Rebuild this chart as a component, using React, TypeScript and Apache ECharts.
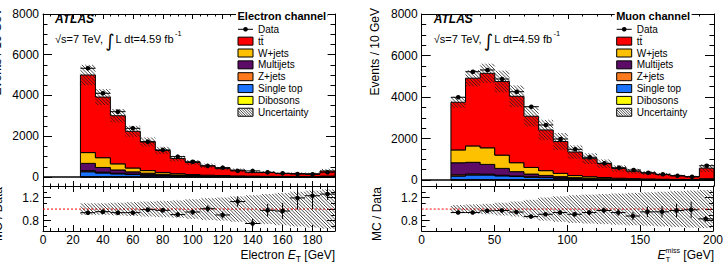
import { useEffect, useRef } from "react";
import * as echarts from "echarts";

const FONT = '"Liberation Sans", Arial, Helvetica, sans-serif';
const INT_FONT = '"DejaVu Sans", "Liberation Sans", sans-serif';

// Electron channel: E_T in 10 GeV bins from 25 GeV (last bin holds the overflow)
const elEdges = [25, 35, 45, 55, 65, 75, 85, 95, 105, 115, 125, 135, 145, 155, 165, 175, 185, 195];
const elData = [5335, 4108, 3205, 2390, 1735, 1330, 1000, 750, 545, 460, 300, 300, 230, 180, 145, 130, 235];
const elTtbar = [3806, 2976, 2360, 1800, 1403, 1076, 742, 592, 459, 344, 287, 183, 193, 148, 152, 143, 252];
const elWjets = [530, 480, 300, 190, 130, 90, 65, 48, 36, 28, 22, 17, 13, 10, 8, 7, 18];
const elMultijets = [360, 230, 160, 110, 75, 50, 35, 25, 18, 13, 10, 8, 6, 5, 4, 3, 8];
const elZjets = [50, 40, 30, 22, 16, 12, 9, 7, 5, 4, 3, 3, 2, 2, 2, 1, 4];
const elSingleTop = [250, 190, 150, 115, 90, 70, 50, 38, 28, 22, 16, 13, 10, 8, 6, 5, 12];
const elDibosons = [8, 7, 6, 5, 4, 3, 3, 2, 2, 2, 1, 1, 1, 1, 1, 1, 2];
const elRelUnc = [0.1, 0.1, 0.11, 0.12, 0.13, 0.14, 0.15, 0.17, 0.19, 0.2, 0.22, 0.24, 0.26, 0.28, 0.3, 0.32, 0.34];
const elRatioErr = [0.015, 0.02, 0.02, 0.025, 0.03, 0.035, 0.04, 0.05, 0.06, 0.06, 0.09, 0.08, 0.11, 0.14, 0.2, 0.23, 0.1];

// Muon channel: E_T^miss in 10 GeV bins from 20 GeV (last bin holds the overflow)
const muEdges = [20, 30, 40, 50, 60, 70, 80, 90, 100, 110, 120, 130, 140, 150, 160, 170, 180, 190, 200];
const muData = [3986, 5219, 5301, 4867, 4255, 3532, 2651, 1976, 1480, 1094, 805, 593, 482, 352, 275, 207, 159, 689];
const muTtbar = [2297, 3264, 3590, 3550, 3201, 2466, 1961, 1535, 1134, 870, 667, 470, 358, 285, 224, 172, 134, 509];
const muWjets = [620, 790, 800, 640, 430, 320, 230, 160, 100, 75, 55, 40, 30, 23, 18, 14, 11, 30];
const muMultijets = [580, 560, 470, 330, 210, 130, 90, 60, 40, 28, 20, 14, 10, 7, 5, 4, 3, 8];
const muZjets = [60, 50, 40, 30, 25, 20, 15, 12, 9, 7, 6, 5, 4, 3, 2, 2, 1, 3];
const muSingleTop = [180, 230, 230, 190, 160, 130, 110, 85, 60, 45, 35, 26, 20, 15, 12, 9, 7, 20];
const muDibosons = [10, 12, 12, 10, 8, 7, 6, 5, 4, 3, 3, 2, 2, 2, 1, 1, 1, 2];
const muRelUnc = [0.07, 0.08, 0.09, 0.11, 0.13, 0.16, 0.2, 0.22, 0.24, 0.25, 0.26, 0.27, 0.28, 0.29, 0.3, 0.31, 0.32, 0.33];
const muRatioErr = [0.015, 0.015, 0.015, 0.02, 0.02, 0.025, 0.03, 0.035, 0.04, 0.045, 0.05, 0.055, 0.07, 0.09, 0.1, 0.12, 0.14, 0.05];

// Tick labels
const elXTicks = [0, 20, 40, 60, 80, 100, 120, 140, 160, 180];
const muXTicks = [0, 50, 100, 150, 200];
const mainYTicks = [0, 2000, 4000, 6000, 8000];
const ratioYTicks = [0.8, 1, 1.2];

// Stack order, bottom to top
const stackColors = ["#ffff00", "#1a74ff", "#ff7a1c", "#5c0b66", "#fdc100", "#ff0000"];
const legendLabels = ["Data", "t\u0074\u0304", "W+jets", "Multijets", "Z+jets", "Single top", "Dibosons", "Uncertainty"];
const legendColors = [null, "#ff0000", "#fdc100", "#5c0b66", "#ff7a1c", "#1a74ff", "#ffff00", null];

const steps = (from: number, to: number, step: number, skip: number[]) => {
  const out: number[] = [];
  for (let v = from; v <= to + 1e-9; v += step) {
    const r = Math.round(v * 1000) / 1000;
    if (!skip.some((s) => Math.abs(s - r) < 1e-6)) out.push(r);
  }
  return out;
};

// Diagonal hatch lines (top-left to bottom-right) inside a pixel rectangle
function hatch(x0: number, y0: number, x1: number, y1: number, step = 3.4, color = "#1e1e1e", lw = 0.8) {
  const out: any[] = [];
  if (y1 < y0) [y0, y1] = [y1, y0];
  const kStart = Math.ceil((y0 - x1) / step) * step;
  for (let k = kStart; k <= y1 - x0; k += step) {
    const xa = Math.max(x0, y0 - k);
    const xb = Math.min(x1, y1 - k);
    if (xb - xa > 0.05) {
      out.push({ type: "line", shape: { x1: xa, y1: xa + k, x2: xb, y2: xb + k }, style: { stroke: color, lineWidth: lw } });
    }
  }
  return out;
}

function makeAxes(dim: "x" | "y", grid: number, min: number, max: number, major: number[], minor: number[], majLen: number, minLen: number, labels: boolean) {
  const sideA = dim === "x" ? "bottom" : "left";
  const sideB = dim === "x" ? "top" : "right";
  const base = { type: "value", gridIndex: grid, min, max, splitLine: { show: false }, silent: true };
  const line = { show: true, onZero: false, lineStyle: { color: "#000", width: 1 } };
  const tick = (vals: number[], len: number) => ({ show: true, inside: true, length: len, customValues: vals, lineStyle: { color: "#000", width: 1 } });
  return [
    {
      ...base, position: sideA, axisLine: line, axisTick: tick(major, majLen),
      axisLabel: labels
        ? {
            show: true, customValues: major, margin: 4, color: "#000", fontFamily: FONT, fontSize: 12,
            lineHeight: 9, hideOverlap: false, showMinLabel: true, showMaxLabel: true,
            formatter: (v: number) => String(v),
          }
        : { show: false },
    },
    { ...base, position: sideA, axisLine: { show: false, onZero: false }, axisTick: tick(minor, minLen), axisLabel: { show: false } },
    { ...base, position: sideB, axisLine: line, axisTick: tick(major, majLen), axisLabel: { show: false } },
    { ...base, position: sideB, axisLine: { show: false, onZero: false }, axisTick: tick(minor, minLen), axisLabel: { show: false } },
  ];
}

const textEl = (x: number, y: number, text: string, size: number, o: any = {}) => ({
  type: "text",
  x,
  y,
  z: 60,
  rotation: o.rot || 0,
  silent: true,
  style: {
    text,
    fontSize: size,
    fontFamily: o.family || FONT,
    fontStyle: o.italic ? "italic" : "normal",
    fontWeight: o.bold ? "bold" : "normal",
    fill: o.color || "#000",
    textAlign: o.align || "left",
    align: o.align || "left",
    textVerticalAlign: "middle",
    verticalAlign: "middle",
  },
});

function buildOption() {
  const ctx = document.createElement("canvas").getContext("2d")!;
  const tw = (t: string, size: number, italic = false, bold = false, family = FONT) => {
    ctx.font = `${italic ? "italic" : "normal"} ${bold ? "bold" : "normal"} ${size}px ${family}`;
    return ctx.measureText(t).width;
  };

  const grids = [
    { left: 43, top: 14, width: 292, height: 172 },
    { left: 43, top: 186, width: 292, height: 45 },
    { left: 421.7, top: 14, width: 292.3, height: 172 },
    { left: 421.7, top: 186, width: 292.3, height: 45 },
  ];

  const panels = [
    {
      edges: elEdges, data: elData, relUnc: elRelUnc, ratioErr: elRatioErr,
      comps: [elDibosons, elSingleTop, elZjets, elMultijets, elWjets, elTtbar],
      xMax: 195, xTicks: elXTicks, xMinor: steps(0, 195, 5, elXTicks), yMin: -442, gMain: 0, gRatio: 1, dx: 0,
      title: "Electron channel",
    },
    {
      edges: muEdges, data: muData, relUnc: muRelUnc, ratioErr: muRatioErr,
      comps: [muDibosons, muSingleTop, muZjets, muMultijets, muWjets, muTtbar],
      xMax: 200, xTicks: muXTicks, xMinor: steps(0, 200, 10, muXTicks), yMin: -289, gMain: 2, gRatio: 3, dx: 378.7,
      title: "Muon channel",
    },
  ];

  const xAxes: any[] = [];
  const yAxes: any[] = [];
  const series: any[] = [];
  const graphics: any[] = [];

  const mainYMinor = steps(500, 8000, 500, mainYTicks);
  const ratioYMinor = steps(0.7, 1.3, 0.1, ratioYTicks);

  panels.forEach((p) => {
    const xm = xAxes.length;
    xAxes.push(...makeAxes("x", p.gMain, 0, p.xMax, p.xTicks, p.xMinor, 5, 2.5, false));
    const ym = yAxes.length;
    yAxes.push(...makeAxes("y", p.gMain, p.yMin, 8000, mainYTicks, mainYMinor, 9, 4.5, true));
    const xr = xAxes.length;
    xAxes.push(...makeAxes("x", p.gRatio, 0, p.xMax, p.xTicks, p.xMinor, 6, 3, true));
    const yr = yAxes.length;
    yAxes.push(...makeAxes("y", p.gRatio, 0.62, 1.4, ratioYTicks, ratioYMinor, 8, 4, true));

    const n = p.data.length;
    let run = new Array(n).fill(0);
    const layers: { lo: number[]; hi: number[] }[] = [];
    p.comps.forEach((c) => {
      const hi = run.map((v: number, i: number) => v + c[i]);
      layers.push({ lo: run, hi });
      run = hi;
    });
    const total = run;
    const edges = p.edges;

    // stacked fills with black outlines
    layers.forEach((ly, ci) => {
      series.push({
        type: "custom", xAxisIndex: xm, yAxisIndex: ym, clip: true, silent: true, z: 2,
        data: [[edges[0], 0]],
        renderItem: (_params: any, api: any) => {
          const pts: number[][] = [];
          ly.hi.forEach((v, i) => { pts.push(api.coord([edges[i], v]), api.coord([edges[i + 1], v])); });
          for (let i = n - 1; i >= 0; i--) pts.push(api.coord([edges[i + 1], ly.lo[i]]), api.coord([edges[i], ly.lo[i]]));
          return { type: "polygon", shape: { points: pts }, style: { fill: stackColors[ci], stroke: "#000", lineWidth: 1 } };
        },
      });
    });

    // empty-histogram outline along zero
    series.push({
      type: "line", xAxisIndex: xm, yAxisIndex: ym, symbol: "none", silent: true, z: 2.5,
      data: [[0, 0], [p.xMax, 0]], lineStyle: { color: "#000", width: 1.6 },
    });

    // uncertainty band on the total prediction
    series.push({
      type: "custom", xAxisIndex: xm, yAxisIndex: ym, clip: true, silent: true, z: 3,
      data: total.map((t: number, i: number) => [edges[i], edges[i + 1], t * (1 - p.relUnc[i]), t * (1 + p.relUnc[i])]),
      renderItem: (_params: any, api: any) => {
        const a = api.coord([api.value(0), api.value(3)]);
        const b = api.coord([api.value(1), api.value(2)]);
        return { type: "group", children: hatch(a[0], a[1], b[0], b[1]) };
      },
    });

    const pointItem = (api: any) => {
      const c = api.coord([api.value(0), api.value(3)]);
      const l = api.coord([api.value(1), api.value(3)]);
      const r = api.coord([api.value(2), api.value(3)]);
      const lo = api.coord([api.value(0), api.value(4)]);
      const hi = api.coord([api.value(0), api.value(5)]);
      return {
        type: "group",
        children: [
          { type: "line", shape: { x1: l[0], y1: c[1], x2: r[0], y2: c[1] }, style: { stroke: "#000", lineWidth: 1 } },
          { type: "line", shape: { x1: c[0], y1: hi[1], x2: c[0], y2: lo[1] }, style: { stroke: "#000", lineWidth: 1 } },
          { type: "circle", shape: { cx: c[0], cy: c[1], r: 2.3 }, style: { fill: "#000" } },
        ],
      };
    };

    // data points
    series.push({
      type: "custom", xAxisIndex: xm, yAxisIndex: ym, clip: true, silent: true, z: 4,
      data: p.data.map((d: number, i: number) => {
        const e = Math.sqrt(d);
        return [(edges[i] + edges[i + 1]) / 2, edges[i], edges[i + 1], d, d - e, d + e];
      }),
      renderItem: (_params: any, api: any) => pointItem(api),
    });

    // ratio panel: band, reference line, points
    series.push({
      type: "custom", xAxisIndex: xr, yAxisIndex: yr, clip: true, silent: true, z: 3,
      data: p.relUnc.map((u: number, i: number) => [edges[i], edges[i + 1], 1 - u, 1 + u]),
      renderItem: (_params: any, api: any) => {
        const a = api.coord([api.value(0), api.value(3)]);
        const b = api.coord([api.value(1), api.value(2)]);
        return { type: "group", children: hatch(a[0], a[1], b[0], b[1]) };
      },
    });
    series.push({
      type: "line", xAxisIndex: xr, yAxisIndex: yr, symbol: "none", silent: true, z: 2,
      data: [[0, 1], [p.xMax, 1]], lineStyle: { color: "#ff0000", width: 1, type: [2, 2] },
    });
    series.push({
      type: "custom", xAxisIndex: xr, yAxisIndex: yr, clip: true, silent: true, z: 4,
      data: p.data.map((d: number, i: number) => {
        const r = total[i] / d;
        return [(edges[i] + edges[i + 1]) / 2, edges[i], edges[i + 1], r, r - p.ratioErr[i], r + p.ratioErr[i]];
      }),
      renderItem: (_params: any, api: any) => pointItem(api),
    });

    // legend, on a white box that covers the frame behind it
    const dx = p.dx;
    const lx = 238 + dx;
    graphics.push({
      type: "rect", silent: true, z: 55,
      shape: { x: lx - 2, y: 8, width: tw(p.title, 11, false, true) + 3, height: 112 },
      style: { fill: "#fff" },
    });
    graphics.push(textEl(lx - 0.5, 16, p.title, 11, { bold: true }));
    legendLabels.forEach((lab, k) => {
      const y = 29.3 + 11.85 * k;
      if (k === 0) {
        graphics.push({ type: "line", silent: true, z: 60, shape: { x1: lx, y1: y, x2: lx + 15, y2: y }, style: { stroke: "#000", lineWidth: 1 } });
        graphics.push({ type: "circle", silent: true, z: 60, shape: { cx: lx + 7.5, cy: y, r: 2.3 }, style: { fill: "#000" } });
      } else if (legendColors[k] === null) {
        graphics.push({
          type: "group", silent: true, z: 60,
          children: [
            { type: "rect", z: 60, shape: { x: lx, y: y - 4, width: 15, height: 8 }, style: { fill: "#fff", stroke: "#000", lineWidth: 1 } },
            ...hatch(lx, y - 4, lx + 15, y + 4, 2.6).map((h) => ({ ...h, z: 61 })),
          ],
        });
      } else {
        graphics.push({ type: "rect", silent: true, z: 60, shape: { x: lx, y: y - 4, width: 15, height: 8 }, style: { fill: legendColors[k], stroke: "#000", lineWidth: 1 } });
      }
      graphics.push(textEl(lx + 20, y, lab, 10));
    });

    // ATLAS label and luminosity
    graphics.push(textEl(55 + dx, 19, "ATLAS", 12, { bold: true, italic: true }));
    const s1 = "\u221As=7 TeV,";
    graphics.push(textEl(55 + dx, 38.5, s1, 11));
    const xi = 55 + dx + tw(s1, 11) + 2;
    graphics.push(textEl(xi, 40, "\u222B", 18, { family: INT_FONT }));
    const xl = xi + tw("\u222B", 18, false, false, INT_FONT) + 1;
    const s2 = "L dt=4.59 fb";
    graphics.push(textEl(xl, 38.5, s2, 11));
    graphics.push(textEl(xl + tw(s2, 11) + 1, 33.5, "-1", 7.5));

    // axis titles
    graphics.push(textEl(-3.5 + dx, 8, "Events / 10 GeV", 12, { rot: Math.PI / 2, align: "right" }));
    graphics.push(textEl(-1.8 + dx, 187, "MC / Data", 12, { rot: Math.PI / 2, align: "right" }));
  });

  // x-axis titles
  {
    const R = 335, y = 255;
    const wA = tw("Electron ", 12), wE = tw("E", 12, true), wT = tw("T", 8.5), wG = tw(" [GeV]", 12);
    const x0 = R - (wA + wE + wT + wG);
    graphics.push(textEl(x0, y, "Electron ", 12));
    graphics.push(textEl(x0 + wA, y, "E", 12, { italic: true }));
    graphics.push(textEl(x0 + wA + wE, y + 3.5, "T", 8.5));
    graphics.push(textEl(x0 + wA + wE + wT, y, " [GeV]", 12));
  }
  {
    const R = 714, y = 255;
    const wE = tw("E", 12, true), wS = Math.max(tw("T", 8), tw("miss", 7)), wG = tw(" [GeV]", 12);
    const x0 = R - (wE + wS + wG);
    graphics.push(textEl(x0, y, "E", 12, { italic: true }));
    graphics.push(textEl(x0 + wE, y + 4, "T", 8));
    graphics.push(textEl(x0 + wE, y - 4.5, "miss", 7));
    graphics.push(textEl(x0 + wE + wS, y, " [GeV]", 12));
  }

  return {
    animation: false,
    backgroundColor: "#fff",
    grid: grids,
    xAxis: xAxes,
    yAxis: yAxes,
    series,
    graphic: { elements: graphics },
  };
}

export default function App() {
  const ref = useRef<HTMLDivElement>(null);
  useEffect(() => {
    const chart = echarts.init(ref.current!, null, { renderer: "svg" });
    chart.setOption(buildOption() as any);
    return () => chart.dispose();
  }, []);
  return <div ref={ref} style={{ position: "absolute", left: 0, top: 0, width: 726, height: 264 }} />;
}
